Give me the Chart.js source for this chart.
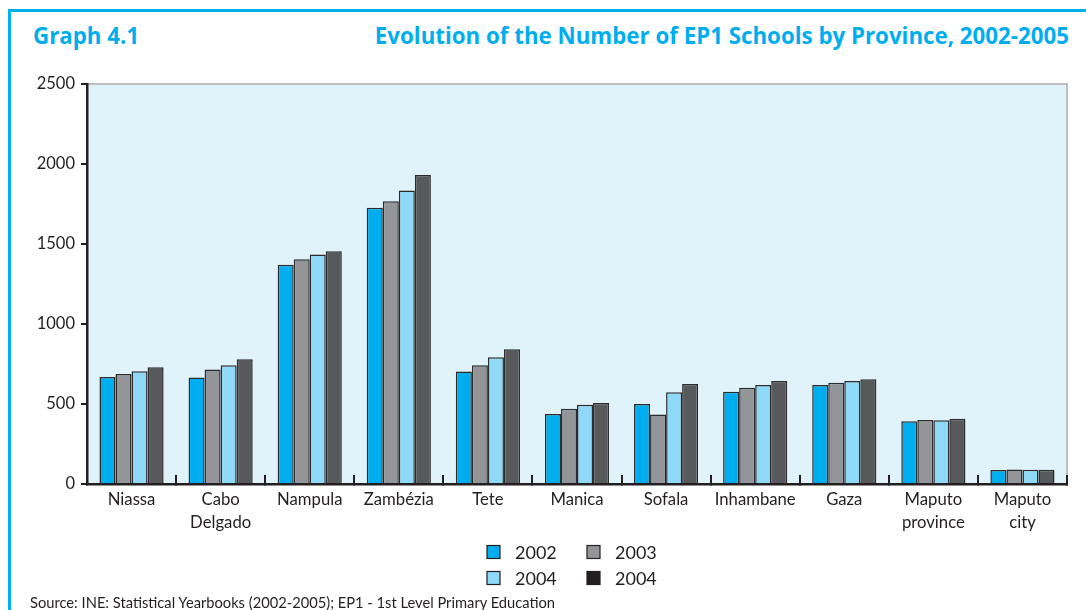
<!DOCTYPE html>
<html>
<head>
<meta charset="utf-8">
<script src="https://cdn.jsdelivr.net/npm/chart.js@4.4.1/dist/chart.umd.min.js"></script>
<style>
  html, body { margin: 0; padding: 0; background: #fff; }
  #wrap { position: relative; width: 1086px; height: 610px; overflow: hidden; font-family: Lato, "Open Sans", sans-serif; }
  #frame { position: absolute; left: 8px; top: 9px; width: 1090px; height: 620px; border-top: 3px solid #00AEEF; border-left: 3px solid #00AEEF; }
  .ttl { position: absolute; top: 20px; font-family: "Open Sans", Lato, sans-serif; font-weight: bold; font-size: 22.3px; color: #00AEEF; white-space: nowrap; }
  #t1 { left: 33px; }
  #t2 { right: 17px; }
  #src { position: absolute; left: 30px; top: 593px; font-size: 14.7px; color: #231F20; white-space: nowrap; }
  canvas { position: absolute; left: 0; top: 0; }
</style>
</head>
<body>
<div id="wrap">
  <div id="frame"></div>
  <div class="ttl" id="t1">Graph 4.1</div>
  <div class="ttl" id="t2">Evolution of the Number of EP1 Schools by Province, 2002-2005</div>
  <canvas id="c" width="1086" height="610"></canvas>
  <div id="src">Source: INE: Statistical Yearbooks (2002-2005); EP1 - 1st Level Primary Education</div>
</div>
<script>
const categories = ['Niassa', ['Cabo', 'Delgado'], 'Nampula', 'Zambézia', 'Tete', 'Manica', 'Sofala', 'Inhambane', 'Gaza', ['Maputo', 'province'], ['Maputo', 'city']];
const seriesLabels = ['2002', '2003', '2004', '2004'];
const values2002 = [669, 665, 1371, 1727, 703, 437, 500, 577, 619, 392, 88];
const values2003 = [688, 715, 1404, 1767, 742, 471, 435, 602, 633, 400, 90];
const values2004 = [704, 742, 1435, 1835, 792, 496, 573, 619, 644, 398, 89];
const values2005 = [730, 779, 1455, 1931, 842, 506, 625, 644, 654, 408, 89];
const yTicks = [0, 500, 1000, 1500, 2000, 2500];

const barColors = ['#00AEEF', '#939598', '#8ED8F8', '#58595B'];
const legendColors = ['#00AEEF', '#939598', '#8ED8F8', '#231F20'];
const allValues = [values2002, values2003, values2004, values2005];

const FONT = 'Lato, "Open Sans", sans-serif';
const INK = '#231F20';

const plotBg = {
  id: 'plotBg',
  beforeDraw(chart) {
    const { ctx, chartArea: a } = chart;
    ctx.save();
    ctx.fillStyle = '#E1F3FA';
    ctx.fillRect(a.left, a.top, a.right - a.left, a.bottom - a.top);
    ctx.strokeStyle = '#BCBEC0';
    ctx.lineWidth = 2;
    ctx.beginPath();
    ctx.moveTo(a.left, a.top);
    ctx.lineTo(a.right, a.top);
    ctx.lineTo(a.right, a.bottom);
    ctx.stroke();
    ctx.restore();
  }
};

const gridLegend = {
  id: 'gridLegend',
  afterDraw(chart) {
    const { ctx } = chart;
    const x0 = 487, colW = 100, y0 = 552, rowH = 26, box = 13;
    ctx.save();
    ctx.font = '18px ' + FONT;
    ctx.textBaseline = 'middle';
    chart.data.datasets.forEach((ds, i) => {
      const col = i % 2, row = Math.floor(i / 2);
      const x = x0 + col * colW, y = y0 + row * rowH;
      ctx.fillStyle = legendColors[i];
      ctx.fillRect(x, y - box / 2, box, box);
      ctx.strokeStyle = INK;
      ctx.lineWidth = 1.2;
      ctx.strokeRect(x, y - box / 2, box, box);
      ctx.fillStyle = INK;
      ctx.fillText(ds.label, x + 28, y + 1);
    });
    ctx.restore();
  }
};

new Chart(document.getElementById('c'), {
  type: 'bar',
  data: {
    labels: categories,
    datasets: allValues.map((vals, i) => ({
      label: seriesLabels[i],
      data: vals,
      backgroundColor: barColors[i],
      borderColor: '#2b2b2d',
      borderWidth: 1.5,
      categoryPercentage: 0.72,
      barPercentage: 1.0
    }))
  },
  options: {
    responsive: false,
    animation: false,
    layout: { padding: { left: 0, top: 84, right: 19, bottom: 0 } },
    plugins: { legend: { display: false }, tooltip: { enabled: false }, title: { display: false } },
    scales: {
      x: {
        afterFit(s) { s.height = 126; },
        border: { display: true, color: INK, width: 2.5 },
        grid: { display: true, drawOnChartArea: false, drawTicks: true, tickLength: -9, color: INK, lineWidth: 2, offset: true },
        ticks: { color: INK, font: { family: FONT, size: 16.7, lineHeight: 1.38 }, padding: 13, maxRotation: 0, autoSkip: false }
      },
      y: {
        min: 0, max: 2500,
        afterFit(s) { s.width = 87; },
        afterBuildTicks(s) { s.ticks = yTicks.map(v => ({ value: v })); },
        border: { display: true, color: INK, width: 2.5 },
        grid: { display: true, drawOnChartArea: false, drawTicks: true, tickLength: 6, color: INK, lineWidth: 2 },
        ticks: { color: INK, font: { family: FONT, size: 16.5 }, padding: 6, callback: v => String(v) }
      }
    }
  },
  plugins: [plotBg, gridLegend]
});
</script>
</body>
</html>
